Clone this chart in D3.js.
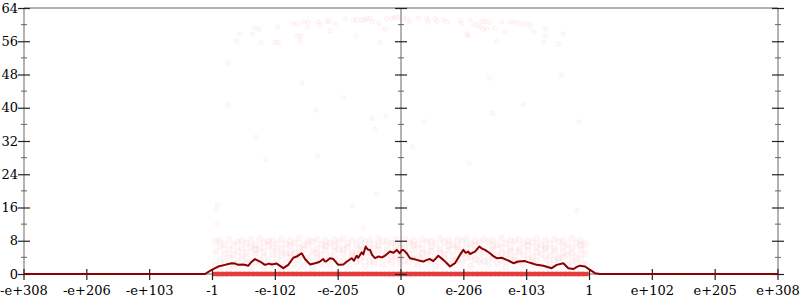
<!DOCTYPE html>
<html><head><meta charset="utf-8">
<script src="https://cdn.jsdelivr.net/npm/d3@7"></script>
<style>
html,body{margin:0;padding:0;background:#fff;}
svg{display:block;}
text{font-family:"DejaVu Serif",serif;font-size:13px;fill:#000;}
</style></head>
<body>
<svg id="chart" width="800" height="300"></svg>
<script>
// ---- data ----
const xTickLabels = ["-e+308","-e+206","-e+103","-1","-e-102","-e-205","0","e-206","e-103","1","e+102","e+205","e+308"];
const xTickValues = [-6,-5,-4,-3,-2,-1,0,1,2,3,4,5,6];
const yMajorTicks = [0,8,16,24,32,40,48,56,64];
const yMinorTicks = [4,12,20,28,36,44,52,60];

// averaged error line [x, bits]
const avgLine = [
 [-6,0],[-3.12,0],[-3.013,1.0],[-2.908,1.8],[-2.801,2.2],[-2.75,2.4],[-2.695,2.6],[-2.64,2.5],[-2.59,2.2],[-2.51,2.3],[-2.43,2.0],
 [-2.38,2.9],[-2.324,3.6],[-2.244,3.0],[-2.165,2.2],[-2.1,2.5],[-2.058,2.3],[-1.978,2.5],[-1.873,1.4],[-1.794,2.2],[-1.714,3.9],
 [-1.66,4.2],[-1.62,4.6],[-1.58,5.0],[-1.528,3.6],[-1.448,2.3],[-1.369,2.6],[-1.3,2.9],[-1.237,3.6],[-1.21,3.0],[-1.183,3.1],[-1.13,3.8],
 [-1.077,3.6],[-0.998,2.2],[-0.918,2.3],[-0.86,3.0],[-0.785,3.8],[-0.75,3.2],[-0.705,4.4],[-0.68,3.9],[-0.625,5.2],[-0.6,4.7],[-0.562,6.6],
 [-0.53,5.9],[-0.493,5.8],[-0.46,4.6],[-0.414,3.8],[-0.361,4.2],[-0.3,4.0],[-0.255,4.4],[-0.175,5.4],[-0.12,5.1],[-0.068,5.8],[-0.021,5.0],
 [0.016,5.8],[0.037,5.8],[0.091,5.0],[0.143,3.8],[0.2,3.6],[0.25,3.4],[0.3,3.2],[0.355,3.0],[0.41,3.4],[0.462,3.6],[0.514,3.1],[0.594,4.4],
 [0.673,3.4],[0.73,2.6],[0.78,1.8],[0.859,2.6],[0.939,4.6],[0.992,5.8],[1.03,5.1],[1.071,5.4],[1.10,4.8],[1.125,5.0],[1.178,5.4],[1.246,6.6],
 [1.29,6.1],[1.337,5.8],[1.416,5.0],[1.47,4.3],[1.523,3.8],[1.603,3.9],[1.682,3.4],[1.74,3.0],[1.787,2.6],[1.867,3.0],[1.974,3.1],[2.03,2.8],[2.08,2.6],
 [2.16,2.2],[2.265,2.0],[2.398,1.4],[2.478,2.2],[2.583,2.6],[2.663,1.4],[2.742,1.2],[2.8,1.7],[2.849,2.0],[2.929,1.8],
 [3.008,1.0],[3.088,0.2],[3.167,0],[6,0]
];

// high-error samples [x, bits]
const highPoints = [
 [-2.615,56.1],[-2.562,57.7],[-2.361,57.7],[-2.324,59.1],[-2.253,58.9],[-2.226,55.7],[-2.005,55.7],[-1.953,55.7],
 [-1.963,59.5],[-1.714,60.3],[-1.65,60.2],[-1.645,57.3],[-1.592,57.3],[-1.608,56.1],[-1.545,60.6],[-1.475,60.6],
 [-1.486,59.4],[-1.316,60.7],[-1.289,59.9],[-1.183,60.7],[-1.141,60.9],[-1.13,58.5],[-1.05,60.2],[-0.875,61.3],
 [-0.759,61.1],[-0.716,57.3],[-0.705,61.1],[-0.626,61.1],[-0.573,61.0],[-0.546,61.5],[-0.493,61.5],[-0.451,60.7],
 [-0.35,60.3],[-0.334,55.7],[-0.255,58.9],[-0.228,61.5],[-0.148,61.5],[-0.095,61.7],[-0.043,61.7],[0.037,61.3],
 [0.09,61.5],[0.143,60.7],[0.276,61.5],[0.409,61.5],[0.435,60.6],[0.541,61.4],[0.568,60.7],[0.674,61.1],
 [0.727,60.7],[0.939,61.0],[0.966,60.2],[1.046,57.7],[1.072,57.3],[1.098,61.1],[1.151,60.1],[1.204,59.9],
 [1.257,59.5],[1.284,60.7],[1.31,59.0],[1.337,60.7],[1.364,58.9],[1.417,60.5],[1.496,59.1],[1.523,55.9],
 [1.603,60.7],[1.655,58.3],[1.735,60.6],[1.814,60.6],[1.894,60.3],[1.974,60.2],[2.053,59.8],[2.106,58.3],
 [2.292,59.0],[2.292,57.1],[2.265,55.7],[2.504,55.3],[2.584,57.7],[-2.749,50.9],[-1.58,45.9],[1.412,47.1],[2.557,47.9]
];

// mid-error samples [x, bits]
const midPoints = [
 [-0.918,42.4],[-2.759,40.7],[-1.353,39.5],[-0.457,37.5],[-0.239,37.9],[-0.425,34.8],[-2.308,32.9],[-2.149,27.6],
 [-1.332,28.4],[0.186,30.6],[0.37,36.6],[1.459,38.7],[1.947,40.8],[2.833,36.6],[1.082,26.6],[-0.387,19.2],
 [-0.775,16.4],[2.796,15.2],[-0.6,11.1],[-2.924,16.6],[-2.95,15.4],[-2.924,12.0]
];

// low-error samples grouped by x column: [x, [bits...]]
const lowColumns = [
 [-2.95,[2.1,5.3,7.8]],[-2.88,[3.4,6.6,8.2,1.5]],[-2.81,[4.9,7.1,2.8]],[-2.74,[1.2,5.8,8.4,3.9]],
 [-2.67,[6.9,2.4,4.6]],[-2.60,[7.7,3.1,5.5,1.8]],[-2.53,[4.2,8.0,6.2]],[-2.46,[2.6,5.1,7.4,3.7]],
 [-2.39,[6.5,1.4,8.3]],[-2.32,[4.8,7.0,2.9,5.9]],[-2.25,[3.3,6.1,8.5]],[-2.18,[5.4,7.6,1.9,4.1]],
 [-2.11,[6.8,3.0,7.9]],[-2.04,[2.2,4.7,6.3,8.1]],[-1.97,[5.6,3.6,7.3]],[-1.90,[1.7,6.0,4.4,8.4]],
 [-1.83,[7.2,2.7,5.0]],[-1.76,[3.9,6.7,8.0,4.9]],[-1.69,[5.2,7.5,2.3]],[-1.62,[6.4,3.5,8.6,4.5]],
 [-1.55,[2.0,5.7,7.0]],[-1.48,[4.0,6.9,8.2,3.2]],[-1.41,[7.8,5.3,1.6]],[-1.34,[3.8,6.2,8.4,5.0]],
 [-1.27,[2.5,4.6,7.1]],[-1.20,[6.6,3.4,8.0,5.8]],[-1.13,[4.3,7.4,2.1]],[-1.06,[5.5,8.3,3.7,6.8]],
 [-0.99,[2.9,6.0,7.7]],[-0.92,[4.8,8.5,3.1,5.9]],[-0.85,[6.5,2.4,7.3]],[-0.78,[3.6,5.2,8.1,4.4]],
 [-0.71,[7.0,4.9,2.8]],[-0.64,[5.7,8.4,3.3,6.6]],[-0.57,[4.1,7.6,1.9]],[-0.50,[6.3,3.0,8.2,5.4]],
 [-0.43,[2.6,7.2,4.7]],[-0.36,[5.9,8.6,3.8,6.9]],[-0.29,[4.5,7.8,2.3]],[-0.22,[6.1,3.5,8.0,5.1]],
 [-0.15,[7.4,4.2,2.7]],[-0.08,[5.6,8.3,3.9,6.7]],[-0.01,[4.0,7.1,2.5]],[0.06,[6.4,3.2,8.5,5.3]],
 [0.13,[2.9,7.5,4.6]],[0.20,[5.8,8.1,3.7,6.9]],[0.27,[4.3,7.0,2.2]],[0.34,[6.2,3.6,8.4,5.0]],
 [0.41,[7.7,4.8,2.6]],[0.48,[5.5,8.0,3.3,6.5]],[0.55,[4.1,7.3,1.8]],[0.62,[6.0,2.9,8.6,5.2]],
 [0.69,[3.8,7.6,4.7]],[0.76,[6.8,2.4,8.2,5.7]],[0.83,[4.4,7.1,3.0]],[0.90,[5.9,8.3,3.5,6.6]],
 [0.97,[2.7,7.9,4.9]],[1.04,[6.3,3.9,8.5,5.1]],[1.11,[4.2,7.2,2.0]],[1.18,[5.6,8.0,3.4,6.9]],
 [1.25,[7.5,4.5,2.8]],[1.32,[6.1,3.1,8.4,5.3]],[1.39,[4.0,7.7,2.3]],[1.46,[5.8,8.2,3.6,6.7]],
 [1.53,[7.0,4.6,2.5]],[1.60,[6.4,3.3,8.6,5.0]],[1.67,[4.8,7.4,1.7]],[1.74,[5.5,8.1,3.8,6.2]],
 [1.81,[7.8,4.3,2.9]],[1.88,[6.0,3.0,8.3,5.4]],[1.95,[4.5,7.2,2.2]],[2.02,[5.7,8.0,3.5,6.8]],
 [2.09,[7.6,4.1,2.6]],[2.16,[6.5,3.2,8.5,5.2]],[2.23,[4.7,7.0,1.9]],[2.30,[5.9,8.2,3.7,6.3]],
 [2.37,[7.3,4.4,2.4]],[2.44,[6.1,3.4,8.4,5.5]],[2.51,[4.0,7.7,2.8]],[2.58,[5.3,8.1,3.9,6.6]],
 [2.65,[7.1,4.6,2.1]],[2.72,[6.2,3.1,8.6,5.0]],[2.79,[4.3,7.5,2.7]],[2.86,[5.8,8.0,3.6,6.9]],
 [2.93,[4.9,7.2,2.3]]
];

// ---- drawing ----
const svg = d3.select("#chart");
const x = d3.scaleLinear().domain([-6,6]).range([24,778]);
const y = d3.scaleLinear().domain([0,64]).range([274,8]);

const sparse = highPoints.concat(midPoints);
const dense = [];
lowColumns.forEach(c=>c[1].forEach(v=>dense.push([c[0],v])));

// axes lines
const axisColor = "#b3b3b3";
svg.append("line").attr("x1",x(-6)).attr("x2",x(6)).attr("y1",y(64)).attr("y2",y(64))
  .attr("stroke",axisColor).attr("stroke-width",2);
svg.append("line").attr("x1",x(-6)).attr("x2",x(6)).attr("y1",y(0)).attr("y2",y(0))
  .attr("stroke",axisColor).attr("stroke-width",2);
[-6,0,6].forEach(v=>{
  svg.append("line").attr("x1",x(v)).attr("x2",x(v)).attr("y1",y(64)).attr("y2",y(0))
    .attr("stroke",axisColor).attr("stroke-width",2);
});

// scatter points
const pts = svg.append("g");
pts.selectAll("circle.s").data(sparse).join("circle").attr("class","s")
  .attr("cx",d=>x(d[0])).attr("cy",d=>y(d[1])).attr("r",2.3)
  .attr("fill","rgba(240,60,60,0.025)").attr("stroke","rgba(240,60,60,0.06)").attr("stroke-width",1);
pts.selectAll("circle.d").data(dense).join("circle").attr("class","d")
  .attr("cx",d=>x(d[0])).attr("cy",d=>y(d[1])).attr("r",3.2)
  .attr("fill","rgba(245,70,70,0.05)").attr("stroke","rgba(245,70,70,0.04)").attr("stroke-width",1);
// zero-error samples (dense band at 0)
pts.selectAll("rect.z").data(lowColumns).join("rect").attr("class","z")
  .attr("x",d=>x(d[0])-3.5).attr("y",y(0)-2.2).attr("width",7).attr("height",4.4)
  .attr("fill","#e43c3c");

// y ticks on the three vertical axes
[-6,0,6].forEach(v=>{
  const cx = x(v);
  svg.append("g").selectAll("line").data(yMinorTicks).join("line")
    .attr("x1",cx-3).attr("x2",cx+3).attr("y1",d=>y(d)).attr("y2",d=>y(d))
    .attr("stroke","#666").attr("stroke-width",1);
  svg.append("g").selectAll("line").data(yMajorTicks).join("line")
    .attr("x1",cx-6).attr("x2",cx+6).attr("y1",d=>y(d)+0.5).attr("y2",d=>y(d)+0.5)
    .attr("stroke","#222").attr("stroke-width",1.2);
});

// x ticks
svg.append("g").selectAll("line").data(xTickValues).join("line")
  .attr("x1",d=>x(d)).attr("x2",d=>x(d)).attr("y1",y(0)-5).attr("y2",y(0)+6)
  .attr("stroke","#222").attr("stroke-width",1.2);

// average line
const line = d3.line().x(d=>x(d[0])).y(d=>y(d[1]));
svg.append("path").datum(avgLine).attr("d",line).attr("fill","none")
  .attr("stroke","#8b0000").attr("stroke-width",2).attr("stroke-linejoin","round");

// labels
svg.append("g").selectAll("text").data(yMajorTicks).join("text")
  .attr("x",18).attr("y",d=>y(d)).attr("dy","0.36em").attr("text-anchor","end").text(d=>d);
svg.append("g").selectAll("text").data(xTickValues).join("text")
  .attr("x",d=>x(d)).attr("y",295).attr("text-anchor","middle").text((d,i)=>xTickLabels[i]);
</script>
</body></html>
